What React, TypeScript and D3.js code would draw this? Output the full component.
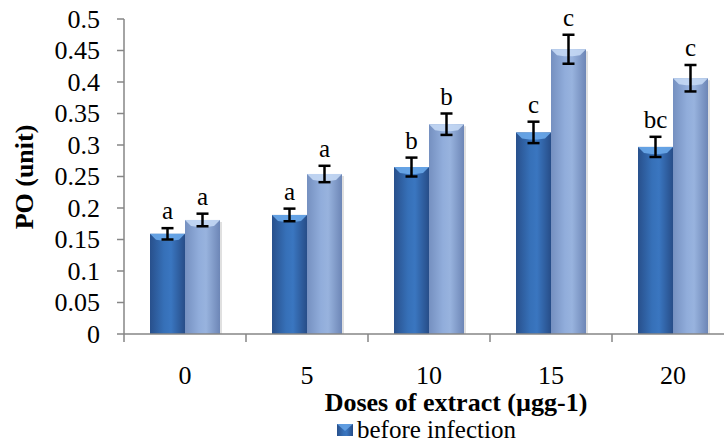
import { useEffect, useRef } from "react";
import * as d3 from "d3";

// Chart data
const doses = ["0", "5", "10", "15", "20"];
const seriesNames = ["before infection", "after infection"];
const beforeValues = [0.159, 0.189, 0.265, 0.32, 0.297];
const afterValues = [0.181, 0.254, 0.333, 0.452, 0.406];
const beforeErrors = [0.009, 0.01, 0.015, 0.017, 0.016];
const afterErrors = [0.01, 0.013, 0.017, 0.023, 0.021];
const beforeLetters = ["a", "a", "b", "c", "bc"];
const afterLetters = ["a", "a", "b", "c", "c"];
const yTicks = [0, 0.05, 0.1, 0.15, 0.2, 0.25, 0.3, 0.35, 0.4, 0.45, 0.5];

const FONT = "'Times New Roman', 'Liberation Serif', serif";

export default function App() {
    const svgRef = useRef<SVGSVGElement | null>(null);

    useEffect(() => {
        if (!svgRef.current) return;
        document.body.style.margin = "0";

        const svg = d3.select(svgRef.current);
        svg.selectAll("*").remove();

        const width = 724;
        const height = 445;
        const left = 124;
        const right = 734; // last category runs past the window edge
        const top = 19;
        const bottom = 334;

        const rows = doses.map((d, i) => ({
            dose: d,
            bars: [
                { key: seriesNames[0], value: beforeValues[i], err: beforeErrors[i], letter: beforeLetters[i] },
                { key: seriesNames[1], value: afterValues[i], err: afterErrors[i], letter: afterLetters[i] },
            ],
        }));

        const x0 = d3.scaleBand().domain(doses).range([left, right]).padding(0);
        const x1 = d3
            .scaleBand()
            .domain(seriesNames)
            .range([0, x0.bandwidth()])
            .paddingInner(0)
            .paddingOuter(0.743);
        const y = d3.scaleLinear().domain([0, 0.5]).range([bottom, top]);

        // Gradients
        const defs = svg.append("defs");
        const grads = [
            { id: "gDark", stops: ["#28508c", "#3670b8", "#3a76c0", "#274d88"] },
            { id: "gLight", stops: ["#7590c0", "#91addb", "#98b3de", "#6d86b6"] },
        ];
        grads.forEach((g) => {
            const lg = defs.append("linearGradient").attr("id", g.id).attr("x1", "0").attr("x2", "1").attr("y1", "0").attr("y2", "0");
            [0, 0.4, 0.6, 1].forEach((o, i) => lg.append("stop").attr("offset", o).attr("stop-color", g.stops[i]));
        });
        const capColors: Record<string, string> = { [seriesNames[0]]: "#6aa8ea", [seriesNames[1]]: "#c4d8f4" };
        const fills: Record<string, string> = { [seriesNames[0]]: "url(#gDark)", [seriesNames[1]]: "url(#gLight)" };

        const axisColor = "#868686";

        // Bars
        const groups = svg
            .selectAll(".cat")
            .data(rows)
            .enter()
            .append("g")
            .attr("class", "cat")
            .attr("transform", (d) => `translate(${x0(d.dose)},0)`);

        const bars = groups
            .selectAll(".bar")
            .data((d) => d.bars)
            .enter()
            .append("g")
            .attr("class", "bar");

        // soft shadow
        bars.append("rect")
            .attr("x", (d) => (x1(d.key) as number) + 2)
            .attr("y", (d) => y(d.value) + 2)
            .attr("width", x1.bandwidth())
            .attr("height", (d) => bottom - y(d.value) - 2)
            .attr("fill", "#000")
            .attr("opacity", 0.12);

        bars.append("rect")
            .attr("x", (d) => x1(d.key) as number)
            .attr("y", (d) => y(d.value))
            .attr("width", x1.bandwidth())
            .attr("height", (d) => bottom - y(d.value))
            .attr("fill", (d) => fills[d.key]);

        // bevelled top
        bars.append("path")
            .attr("d", (d) => {
                const bx = x1(d.key) as number;
                const w = x1.bandwidth();
                const by = y(d.value);
                return `M${bx},${by} L${bx + w},${by} L${bx + w - 6},${by + 6} L${bx + w / 2 + 4},${by + 7} L${bx + w / 2 - 4},${by + 7} L${bx + 6},${by + 6} Z`;
            })
            .attr("fill", (d) => capColors[d.key])
            .attr("opacity", 0.9);

        // Error bars
        const errs = bars.append("g").attr("stroke", "#000").attr("stroke-width", 2.5);
        const cx = (d: any) => (x1(d.key) as number) + x1.bandwidth() / 2;
        errs.append("line")
            .attr("x1", cx)
            .attr("x2", cx)
            .attr("y1", (d) => y(d.value + d.err))
            .attr("y2", (d) => y(d.value - d.err));
        [1, -1].forEach((s) => {
            errs.append("line")
                .attr("x1", (d) => cx(d) - 6)
                .attr("x2", (d) => cx(d) + 6)
                .attr("y1", (d) => y(d.value + s * d.err))
                .attr("y2", (d) => y(d.value + s * d.err));
        });

        // Letters
        bars.append("text")
            .attr("x", cx)
            .attr("y", (d) => y(d.value + d.err) - 9)
            .attr("text-anchor", "middle")
            .attr("font-family", FONT)
            .attr("font-size", "25px")
            .attr("fill", "#000")
            .text((d) => d.letter);

        // Y axis
        svg.append("line")
            .attr("x1", left)
            .attr("x2", left)
            .attr("y1", top)
            .attr("y2", bottom)
            .attr("stroke", axisColor)
            .attr("stroke-width", 1.5);
        const yt = svg.selectAll(".ytick").data(yTicks).enter().append("g").attr("class", "ytick");
        yt.append("line")
            .attr("x1", left - 7)
            .attr("x2", left)
            .attr("y1", (d) => y(d))
            .attr("y2", (d) => y(d))
            .attr("stroke", axisColor)
            .attr("stroke-width", 1.5);
        yt.append("text")
            .attr("x", 100)
            .attr("y", (d) => y(d))
            .attr("dy", "0.33em")
            .attr("text-anchor", "end")
            .attr("font-family", FONT)
            .attr("font-size", "26px")
            .attr("fill", "#000")
            .text((d) => (d === 0 ? "0" : String(+d.toFixed(2))));

        // X axis
        svg.append("line")
            .attr("x1", left)
            .attr("x2", right)
            .attr("y1", bottom)
            .attr("y2", bottom)
            .attr("stroke", axisColor)
            .attr("stroke-width", 1.5);
        const boundaries = doses.map((d) => x0(d) as number).concat([right]);
        svg.selectAll(".xtick")
            .data(boundaries)
            .enter()
            .append("line")
            .attr("x1", (d) => d)
            .attr("x2", (d) => d)
            .attr("y1", bottom)
            .attr("y2", bottom + 8)
            .attr("stroke", axisColor)
            .attr("stroke-width", 1.5);
        svg.selectAll(".xlab")
            .data(doses)
            .enter()
            .append("text")
            .attr("x", (d) => (x0(d) as number) + x0.bandwidth() / 2)
            .attr("y", 384)
            .attr("text-anchor", "middle")
            .attr("font-family", FONT)
            .attr("font-size", "26px")
            .attr("fill", "#000")
            .text((d) => d);

        // Axis titles
        svg.append("text")
            .attr("x", 456)
            .attr("y", 411)
            .attr("text-anchor", "middle")
            .attr("font-family", FONT)
            .attr("font-size", "26px")
            .attr("font-weight", "bold")
            .attr("fill", "#000")
            .text("Doses of extract (µgg-1)");

        svg.append("text")
            .attr("transform", "translate(33,177) rotate(-90)")
            .attr("text-anchor", "middle")
            .attr("font-family", FONT)
            .attr("font-size", "26px")
            .attr("font-weight", "bold")
            .attr("fill", "#000")
            .text("PO (unit)");

        // Legend (only first entry fits in view)
        const lg = svg.append("g").attr("transform", "translate(337,424)");
        lg.append("rect").attr("width", 16).attr("height", 12).attr("fill", "url(#gDark)");
        lg.append("path").attr("d", "M0,0 L16,0 L8,7 Z").attr("fill", "#6aa8ea").attr("opacity", 0.8);
        lg.append("text")
            .attr("x", 20)
            .attr("y", 14)
            .attr("font-family", FONT)
            .attr("font-size", "25px")
            .attr("fill", "#000")
            .text(seriesNames[0]);

        svg.attr("width", width).attr("height", height);
    }, []);

    return <svg ref={svgRef} width={724} height={445} style={{ display: "block", overflow: "hidden" }} />;
}
